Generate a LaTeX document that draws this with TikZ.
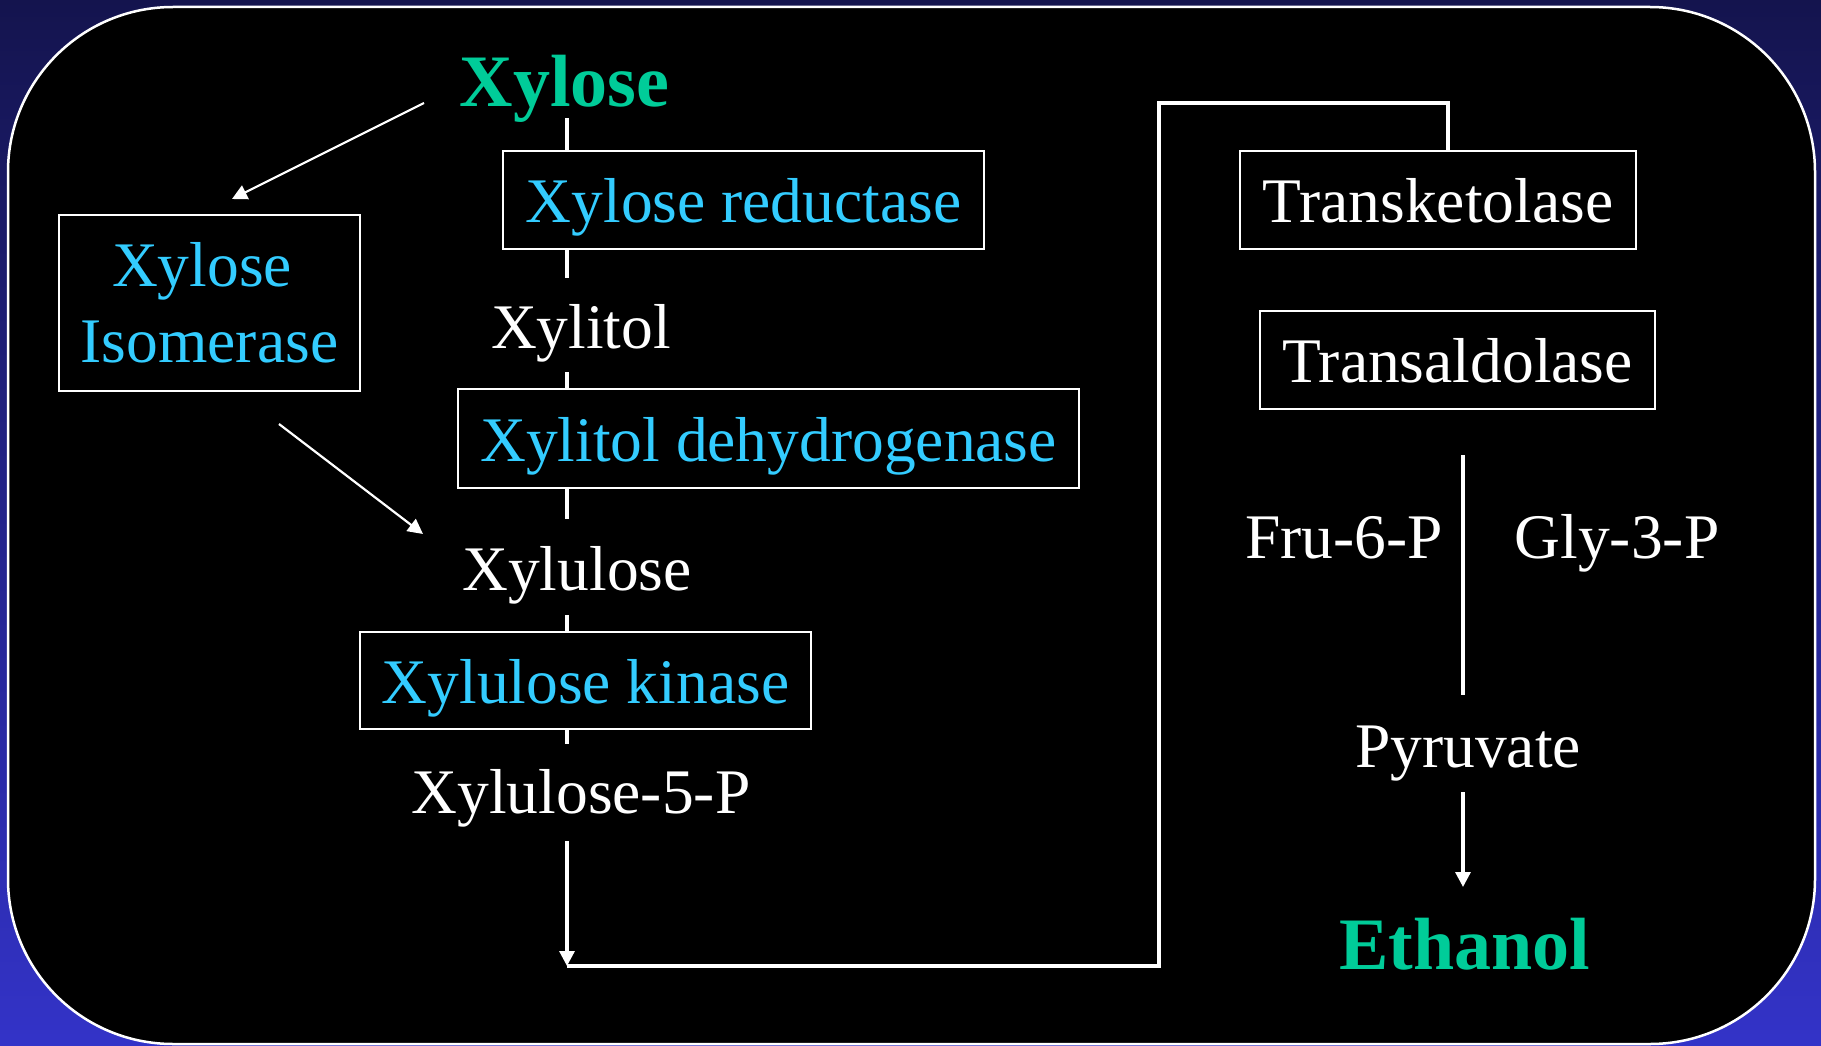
\documentclass[tikz,border=0pt]{standalone}
\usepackage{fontspec}
\setmainfont{Liberation Serif}
\usetikzlibrary{arrows.meta,calc}
\definecolor{bgtop}{RGB}{20,20,78}
\definecolor{bgbot}{RGB}{51,51,200}
\definecolor{enz}{RGB}{51,204,255}
\definecolor{prod}{RGB}{0,204,153}
\begin{document}
\begin{tikzpicture}[x=1pt,y=-1pt,
  conn/.style={white,line width=3.2pt},
  thinline/.style={white,line width=2.2pt},
  tip/.style={-{Triangle[length=15pt,width=15pt]}},
  ebox/.style={draw=white,line width=2.2pt,fill=black,inner sep=0pt,text=enz,
    text height=45pt,text depth=0pt,font=\fontsize{63.5}{76}\selectfont},
  wbox/.style={ebox,text=white},
  txt/.style={anchor=base,inner sep=0pt,text=white,font=\fontsize{63.5}{76}\selectfont},
  big/.style={anchor=base,inner sep=0pt,text=prod,font=\fontsize{74}{88}\selectfont\bfseries}]
\useasboundingbox (0,0) rectangle (1821,1046);
\shade[top color=bgtop,bottom color=bgbot] (0,0) rectangle (1821,1046);
\draw[white,line width=2.5pt,fill=black,rounded corners=165pt] (8,7) rectangle (1815,1044);

% texts
\node[big] (xylose) at (564.5,107) {Xylose};
\node[txt] (xylitol) at (581,348) {Xylitol};
\node[txt] (xylulose) at (577,590) {Xylulose};
\node[txt] (x5p) at (581,813) {Xylulose-5-P};
\node[txt] (fru) at (1344,558) {Fru-6-P};
\node[txt] (gly) at (1617,558) {Gly-3-P};
\node[txt] (pyr) at (1468,767) {Pyruvate};
\node[big] (eth) at (1465,969) {Ethanol};

% boxes
\node[ebox,minimum width=481pt,minimum height=98pt] (red) at (743.5,200) {Xylose reductase};
\node[ebox,minimum width=621pt,minimum height=99pt] (dehy) at (768.5,438.5) {Xylitol dehydrogenase};
\node[ebox,minimum width=451pt,minimum height=97pt] (kin) at (585.5,680.5) {Xylulose kinase};
\node[wbox,minimum width=396pt,minimum height=98pt] (tk) at (1438,200) {Transketolase};
\node[wbox,minimum width=395pt,minimum height=98pt] (ta) at (1457.5,360) {Transaldolase};
\node[draw=white,line width=2.2pt,fill=black,inner sep=0pt,text=enz,align=center,
  minimum width=301pt,minimum height=176pt,font=\fontsize{63.5}{76}\selectfont]
  (iso) at (209.5,303) {Xylose\hspace*{15pt}\\Isomerase};

% central column connectors
\coordinate (c) at (567,0);
\draw[conn] (red.north -| c) -- ++(0,-32);
\draw[conn] (red.south -| c) -- ++(0,28);
\draw[conn] (dehy.north -| c) -- ++(0,-16);
\draw[conn] (dehy.south -| c) -- ++(0,30);
\draw[conn] (kin.north -| c) -- ++(0,-16);
\draw[conn] (kin.south -| c) -- ++(0,14);

% route to pentose phosphate pathway
\coordinate (corner) at (567,966);
\coordinate (r1) at (1159,966);
\coordinate (r2) at (1159,103);
\coordinate (r3) at (1448,103);
\draw[conn,tip] (c |- 0,841) -- (corner);
\draw[conn] (corner) -- (r1) -- (r2) -- (r3) -- (tk.north -| r3);

% right column
\coordinate (rc) at (1463,0);
\draw[conn] (rc |- 0,455) -- (rc |- 0,695);
\draw[conn,tip] (rc |- 0,792) -- (rc |- 0,887);

% isomerase branch
\coordinate (a1s) at (424,103);
\coordinate (a1e) at (232,199);
\coordinate (a2s) at (279,424);
\coordinate (a2e) at (423,534);
\draw[thinline,tip] (a1s) -- (a1e);
\draw[thinline,tip] (a2s) -- (a2e);
\end{tikzpicture}
\end{document}
